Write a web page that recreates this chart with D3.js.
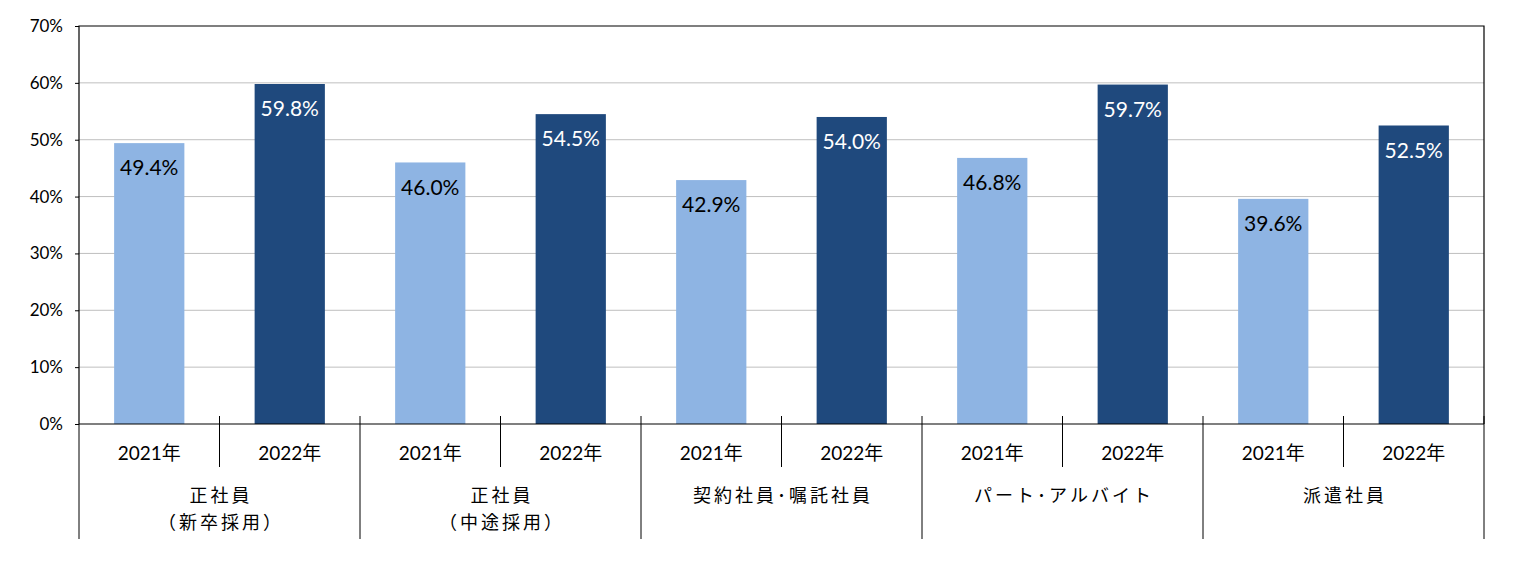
<!DOCTYPE html>
<html><head><meta charset="utf-8">
<script src="https://cdn.jsdelivr.net/npm/d3@7"></script>
<style>body{margin:0;background:#fff}svg{display:block}text{font-family:Lato,"Noto Sans CJK JP",sans-serif}</style>
</head><body><svg id="c" width="1520" height="562"></svg>
<script>
const groups = [["正社員","（新卒採用）"],["正社員","（中途採用）"],["契約社員･嘱託社員"],["パート･アルバイト"],["派遣社員"]];
const years = ["2021年","2022年"];
const v2021 = [49.4,46.0,42.9,46.8,39.6];
const v2022 = [59.8,54.5,54.0,59.7,52.5];
const yTicks = [0,10,20,30,40,50,60,70];
const colors = ["#8eb4e3","#1f497d"];

const svg = d3.select("#c");
const L=79,R=1484,T=26,B=424;
const y = d3.scaleLinear().domain([0,70]).range([B,T]);
const gx = d3.scaleBand().domain(d3.range(groups.length)).range([L,R]);
const sx = d3.scaleBand().domain(years).range([0,gx.bandwidth()]);

svg.append("g").selectAll("line").data(yTicks.filter(d=>d>0&&d<70)).join("line")
 .attr("x1",L).attr("x2",R).attr("y1",d=>y(d)).attr("y2",d=>y(d)).attr("stroke","#bfbfbf").attr("stroke-width",1);
const ya = svg.append("g").attr("transform",`translate(${L},0)`)
 .call(d3.axisLeft(y).tickValues(yTicks).tickFormat(d=>d+"%").tickSize(4).tickSizeOuter(0));
ya.select(".domain").remove();
ya.selectAll("line").attr("stroke","#000");
ya.selectAll("text").attr("font-size",17).attr("fill","#000").attr("x",-16);

const series=[v2021,v2022];
series.forEach((vals,si)=>{
  const g=svg.append("g");
  g.selectAll("rect").data(vals).join("rect")
   .attr("x",(d,i)=>gx(i)+sx(years[si])+sx.bandwidth()/4)
   .attr("width",sx.bandwidth()/2)
   .attr("y",d=>y(d)).attr("height",d=>B-y(d)).attr("fill",colors[si]);
  g.selectAll("text").data(vals).join("text")
   .attr("x",(d,i)=>gx(i)+sx(years[si])+sx.bandwidth()/2)
   .attr("y",d=>y(d)+25).attr("dy","0.35em").attr("text-anchor","middle")
   .attr("font-size",21).attr("fill",si?"#fff":"#000").text(d=>d.toFixed(1)+"%");
});

svg.append("path").attr("d",`M${L},${B}V${T}H${R}V${B}`).attr("fill","none").attr("stroke","#000").attr("stroke-width",1.2);
svg.append("line").attr("x1",L).attr("x2",R).attr("y1",B).attr("y2",B).attr("stroke","#000").attr("stroke-width",1.2);

const divs = d3.range(groups.length+1).map(i=>i<groups.length?gx(i):R);
svg.append("g").selectAll("line").data(divs).join("line")
 .attr("x1",d=>d).attr("x2",d=>d).attr("y1",d=>d===L?B:416).attr("y2",539).attr("stroke","#000");
svg.append("g").selectAll("line").data(d3.range(groups.length)).join("line")
 .attr("x1",i=>gx(i)+sx.bandwidth()).attr("x2",i=>gx(i)+sx.bandwidth()).attr("y1",416).attr("y2",467).attr("stroke","#000");

const ls=3;
groups.forEach((g,i)=>{
  years.forEach(yr=>{
    svg.append("text").attr("x",gx(i)+sx(yr)+sx.bandwidth()/2).attr("y",453).attr("dy","0.35em")
     .attr("text-anchor","middle").attr("font-size",19).attr("fill","#000").text(yr);
  });
  g.forEach((line,k)=>{
    svg.append("text").attr("x",gx(i)+gx.bandwidth()/2+ls/2).attr("y",496+k*27).attr("dy","0.35em")
     .attr("text-anchor","middle").attr("font-size",18).attr("letter-spacing",ls).attr("fill","#000").text(line);
  });
});
</script></body></html>
